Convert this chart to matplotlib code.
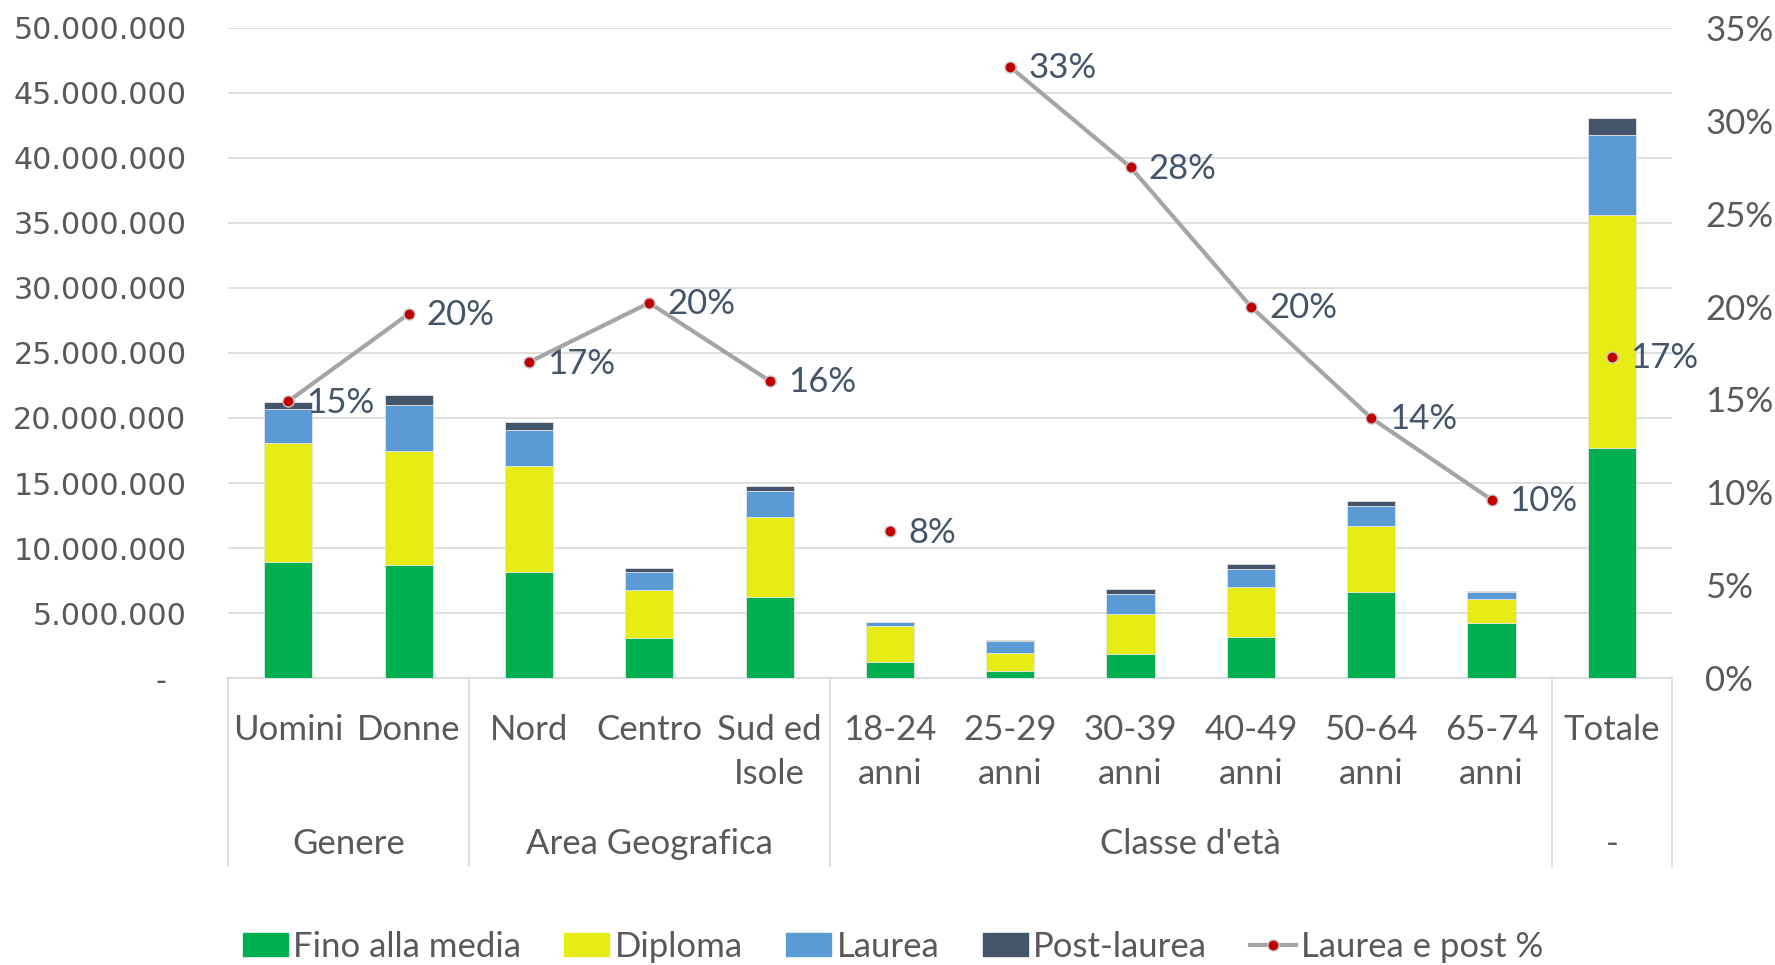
import matplotlib.pyplot as plt
import matplotlib.transforms as mtransforms
from matplotlib.patches import Patch
from matplotlib.lines import Line2D
from matplotlib.ticker import FuncFormatter, MultipleLocator

plt.rcParams['font.family'] = ['Lato', 'DejaVu Sans']

# data (milioni di persone)
categorie = ["Uomini", "Donne", "Nord", "Centro", "Sud ed\nIsole",
             "18-24\nanni", "25-29\nanni", "30-39\nanni", "40-49\nanni",
             "50-64\nanni", "65-74\nanni", "Totale"]
fino_media = [8.95, 8.66, 8.18, 3.05, 6.25, 1.20, 0.51, 1.82, 3.15, 6.62, 4.26, 17.69]
diploma = [9.13, 8.82, 8.15, 3.69, 6.16, 2.79, 1.44, 3.10, 3.85, 5.08, 1.79, 17.95]
laurea = [2.61, 3.54, 2.77, 1.38, 2.00, 0.33, 0.87, 1.52, 1.36, 1.54, 0.54, 6.13]
post_laurea = [0.54, 0.75, 0.56, 0.34, 0.38, 0.02, 0.08, 0.40, 0.38, 0.38, 0.10, 1.31]
laurea_post_pct = [14.9, 19.6, 17.0, 20.2, 16.0, 7.9, 32.9, 27.5, 20.0, 14.0, 9.6, 17.3]

gruppi = ["Genere", "Area Geografica", "Classe d'età", "-"]
gruppi_idx = [[0, 1], [2, 3, 4], [5], [6, 7, 8, 9, 10], [11]]   # tratti di linea
gruppi_span = [(0, 1), (2, 4), (5, 10), (11, 11)]

c_green = '#00B050'
c_yellow = '#E6EC14'
c_blue = '#5B9BD5'
c_dark = '#44546A'
c_grid = '#D9D9D9'
c_text = '#595959'
fs = 25

fig = plt.figure(figsize=(17.75, 9.65), dpi=100)
ax = fig.add_axes([0.1285, 0.2974, 0.8135, 0.6736])

x = list(range(len(categorie)))
w = 0.40
M = 1e6
b1 = [v * M for v in fino_media]
b2 = [v * M for v in diploma]
b3 = [v * M for v in laurea]
b4 = [v * M for v in post_laurea]
bot2 = b1
bot3 = [a + b for a, b in zip(b1, b2)]
bot4 = [a + b for a, b in zip(bot3, b3)]

kw = dict(width=w, edgecolor='#E4E4E4', linewidth=0.6, zorder=3)
ax.bar(x, b1, color=c_green, **kw)
ax.bar(x, b2, bottom=bot2, color=c_yellow, **kw)
ax.bar(x, b3, bottom=bot3, color=c_blue, **kw)
ax.bar(x, b4, bottom=bot4, color=c_dark, **kw)

ax.set_xlim(-0.5, len(categorie) - 0.5)
ax.set_ylim(0, 50e6)
ax.yaxis.set_major_locator(MultipleLocator(5e6))
ax.yaxis.set_major_formatter(FuncFormatter(
    lambda v, p: '-  ' if v == 0 else f"{v:,.0f}".replace(",", ".")))
ax.grid(axis='y', color=c_grid, linewidth=1.2, zorder=0)
ax.set_axisbelow(True)
for s in ['left', 'right', 'top']:
    ax.spines[s].set_visible(False)
ax.spines['bottom'].set_color(c_grid)
ax.spines['bottom'].set_linewidth(1.2)
ax.tick_params(axis='y', length=0, pad=30, labelcolor=c_text)
for lab in ax.get_yticklabels():
    lab.set_fontfamily('DejaVu Sans')
    lab.set_fontsize(21.7)

ax.set_xticks(x)
ax.set_xticklabels(categorie, fontsize=fs, color=c_text, linespacing=1.45)
ax.tick_params(axis='x', length=0, pad=26)

# asse secondario
ax2 = ax.twinx()
ax2.set_ylim(0, 0.35)
ax2.yaxis.set_major_locator(MultipleLocator(0.05))
ax2.yaxis.set_major_formatter(FuncFormatter(lambda v, p: f"{v*100:.0f}%"))
ax2.tick_params(axis='y', length=0, pad=24, labelsize=fs, labelcolor=c_text)
for s in ax2.spines.values():
    s.set_visible(False)

for idx in gruppi_idx:
    ax2.plot(idx, [laurea_post_pct[i] / 100 for i in idx], color='#A5A5A5',
             linewidth=3, marker='o', markersize=8, markerfacecolor='#C00000',
             markeredgecolor='#C8C8C8', markeredgewidth=1, zorder=4)
for i, v in enumerate(laurea_post_pct):
    ax2.annotate(f"{v:.0f}%", (i, v / 100), xytext=(13, -1),
                 textcoords='offset points', va='center', ha='left',
                 fontsize=fs, color=c_dark)

# etichette di gruppo e separatori
trans = mtransforms.blended_transform_factory(ax.transData, ax.transAxes)
for nome, (a, b) in zip(gruppi, gruppi_span):
    ax.text((a + b) / 2, -0.256, nome, transform=trans, ha='center',
            va='center', fontsize=fs, color=c_text)
bordi = sorted(set([a - 0.5 for a, b in gruppi_span] + [b + 0.5 for a, b in gruppi_span]))
for xb in bordi:
    ax.plot([xb, xb], [0, -0.289], transform=trans, color=c_grid,
            linewidth=1.2, clip_on=False)

handles = [Patch(color=c_green), Patch(color=c_yellow), Patch(color=c_blue),
           Patch(color=c_dark),
           Line2D([], [], color='#A5A5A5', linewidth=3, marker='o', markersize=8,
                  markerfacecolor='#C00000', markeredgecolor='#C8C8C8')]
labels = ["Fino alla media", "Diploma", "Laurea", "Post-laurea", "Laurea e post %"]
leg = fig.legend(handles, labels, loc='lower center', bbox_to_anchor=(0.503, -0.03),
                 ncol=5, frameon=False, fontsize=fs, handlelength=1.3,
                 handleheight=0.65, handletextpad=0.15, columnspacing=1.25)
for t in leg.get_texts():
    t.set_color(c_text)

fig.savefig('out.png', dpi=100)
